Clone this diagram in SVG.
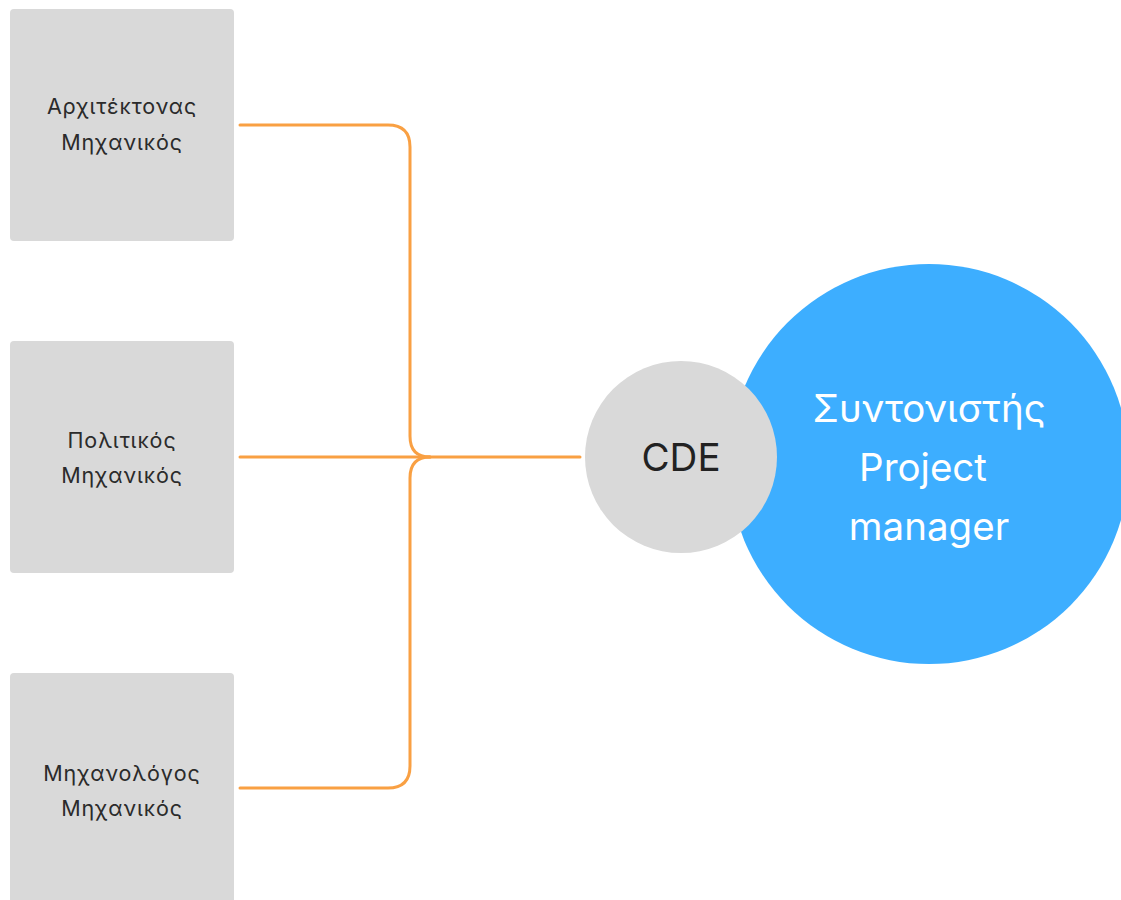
<svg xmlns="http://www.w3.org/2000/svg" width="1121" height="900" viewBox="0 0 1121 900">
<style>
.box{fill:#d9d9d9}
.lbl{font-family:Inter,"Noto Sans",sans-serif;font-size:21.5px;letter-spacing:0.9px;fill:#2b2b2b;text-anchor:middle}
.con{fill:none;stroke:#f9a043;stroke-width:3;stroke-linecap:round;stroke-linejoin:round}
.big{font-family:Inter,"Noto Sans",sans-serif;font-size:38.5px;text-anchor:middle}
</style>
<rect width="1121" height="900" fill="#ffffff"/>
<g id="connectors">
<path class="con" d="M240 125 H388 Q410 125 410 147 V436 Q410 457 430 457"/>
<path class="con" d="M240 788 H388 Q410 788 410 766 V478 Q410 457 430 457"/>
<path class="con" d="M240 457 H580"/>
</g>
<g id="arch">
<rect class="box" x="10" y="9" width="224" height="232" rx="4"/>
<text class="lbl" x="122" y="114">Αρχιτέκτονας</text>
<text class="lbl" x="122" y="150">Μηχανικός</text>
</g>
<g id="civil">
<rect class="box" x="10" y="341" width="224" height="232" rx="4"/>
<text class="lbl" x="122" y="448">Πολιτικός</text>
<text class="lbl" x="122" y="483">Μηχανικός</text>
</g>
<g id="mech">
<rect class="box" x="10" y="673" width="224" height="240" rx="4"/>
<text class="lbl" x="122" y="781">Μηχανολόγος</text>
<text class="lbl" x="122" y="816">Μηχανικός</text>
</g>
<g id="pm">
<circle cx="929" cy="464" r="200" fill="#3daeff"/>
<text class="big" x="929" y="422" fill="#ffffff">Συντονιστής</text>
<text class="big" x="923" y="481" fill="#ffffff">Project</text>
<text class="big" x="929" y="540" fill="#ffffff">manager</text>
</g>
<g id="cde">
<circle cx="681" cy="457" r="96" fill="#d9d9d9"/>
<text class="big" x="681" y="471" fill="#222222">CDE</text>
</g>
</svg>
